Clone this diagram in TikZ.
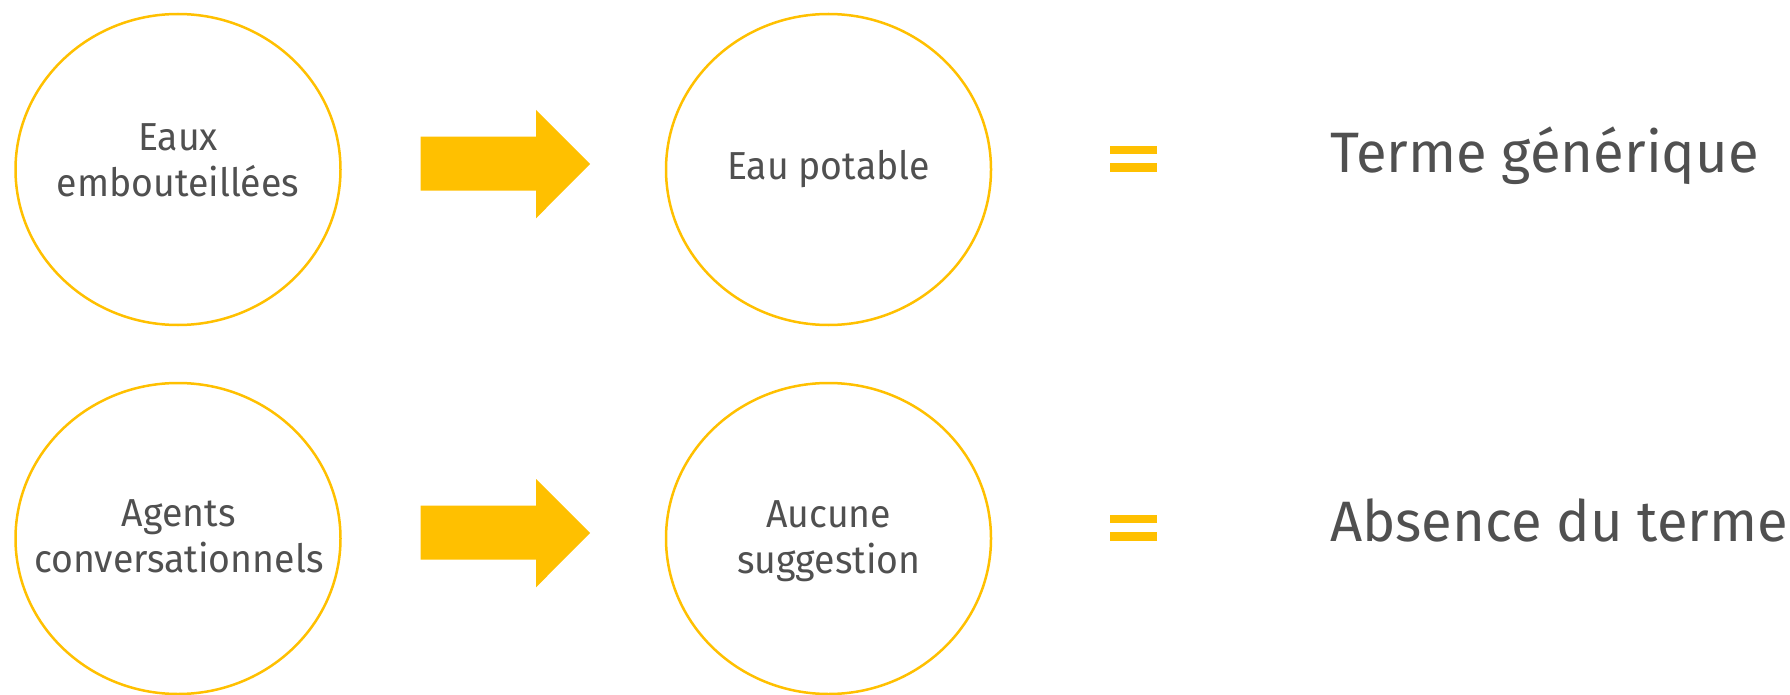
\documentclass[tikz,border=0pt]{standalone}
\usepackage{fontspec}
\setmainfont{Fira Sans}[FakeStretch=0.96]
\newfontfamily\bigfam{Fira Sans}[FakeStretch=0.985]
\usetikzlibrary{shapes.geometric}
\definecolor{gold}{HTML}{FFC000}
\definecolor{ink}{HTML}{505050}
\begin{document}
\begin{tikzpicture}[x=1pt,y=-1pt,
  bubble/.style={draw=gold, line width=2.5pt, ellipse, minimum width=325pt, minimum height=311pt, inner sep=0pt},
  small/.style={text=ink, font=\fontsize{39}{46}\selectfont, anchor=base, inner sep=0pt},
  big/.style={text=ink, font=\bigfam\fontsize{57}{68}\selectfont, anchor=base west, inner sep=0pt},
  bar/.style={fill=gold},
  blockarrow/.style={fill=gold}]
\useasboundingbox[fill=white] (0,0) rectangle (1790,695);

% row 1
\node[bubble] (c11) at (178,169.5) {};
\node[bubble] (c12) at (828.5,169.5) {};
\node[small] (t11a) at (178,150.6) {Eaux};
\node[small] (t11b) at (178,196.7) {embouteillées};
\node[small] (t12) at (828.5,180) {Eau potable};
\fill[blockarrow] (420.7,136.7) -- (536,136.7) -- (536,110) -- (590,164) -- (536,218.3) -- (536,190.7) -- (420.7,190.7) -- cycle;
\fill[bar] (1110,145.7) rectangle (1157.3,154);
\fill[bar] (1110,163.3) rectangle (1157.3,171.7);
\node[big] (r1) at (1330,172.3) {Terme générique};

% row 2
\node[bubble] (c21) at (178,538.5) {};
\node[bubble] (c22) at (828.5,538.5) {};
\node[small] (t21a) at (178.8,526.5) {Agents};
\node[small] (t21b) at (178.8,572.5) {conversationnels};
\node[small] (t22a) at (828.8,527.5) {Aucune};
\node[small] (t22b) at (828.8,573.3) {suggestion};
\fill[blockarrow] (420.7,505.7) -- (536,505.7) -- (536,479) -- (590,533) -- (536,587.3) -- (536,559.7) -- (420.7,559.7) -- cycle;
\fill[bar] (1110,514.7) rectangle (1157.3,523);
\fill[bar] (1110,532.3) rectangle (1157.3,540.7);
\node[big] (r2) at (1330,541.3) {Absence du terme};
\end{tikzpicture}
\end{document}
